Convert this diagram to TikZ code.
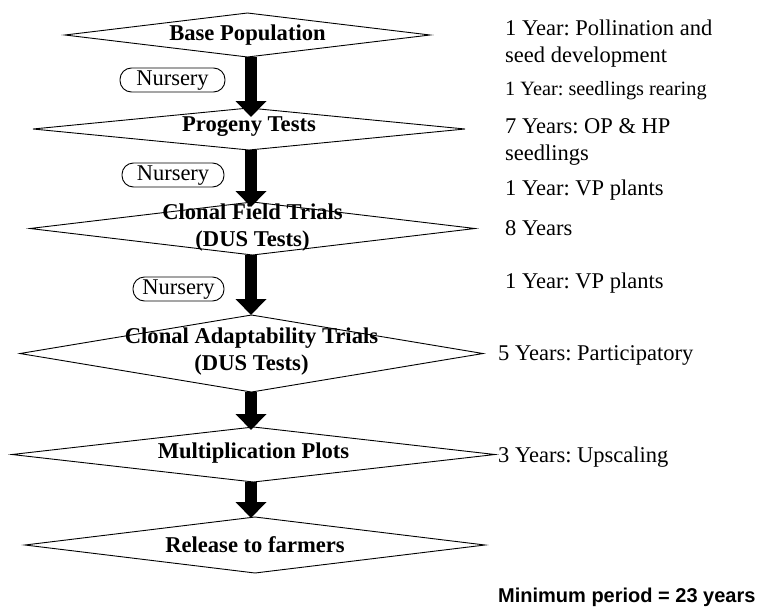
\documentclass[tikz,border=0pt]{standalone}
\usepackage{fontspec}
\setmainfont{Liberation Serif}
\newfontfamily\arialfont{Liberation Sans}
\usetikzlibrary{shapes.geometric,arrows.meta,calc}
\frenchspacing
\begin{document}
\begin{tikzpicture}[x=1pt,y=-1pt,
  dia/.style={draw, line width=0.9pt, shape=diamond, inner sep=0pt, outer sep=0pt},
  dlabel/.style={font=\fontsize{22.6}{27}\selectfont\bfseries, align=center, inner sep=0pt},
  pill/.style={draw, line width=0.9pt, rounded corners=11.5pt, minimum height=24pt, inner sep=0pt,
    font=\fontsize{22.5}{27}\selectfont, text height=15pt, text depth=4pt},
  note/.style={anchor=west, inner sep=0pt, align=left, font=\fontsize{22.5}{27}\selectfont},
  blockarrow/.style={line width=12pt, -{Triangle[width=30pt,length=16pt]}}
]
\useasboundingbox (0,0) rectangle (762,613);
\fill[white] (0,0) rectangle (762,613);

% diamonds
\node[dia, minimum width=365pt, minimum height=44pt] (d1) at (247.5,35) {};
\node[dia, minimum width=432pt, minimum height=42pt] (d2) at (249,129) {};
\node[dia, minimum width=445pt, minimum height=53pt] (d3) at (252.5,228.5) {};
\node[dia, minimum width=463pt, minimum height=77pt] (d4) at (251.5,353.5) {};
\node[dia, minimum width=483pt, minimum height=55pt] (d5) at (253.5,454.5) {};
\node[dia, minimum width=460pt, minimum height=56pt] (d6) at (255,545) {};

\coordinate (ax) at (251,0);

% arrows
\draw[blockarrow, shorten >=-9pt] (d1.south -| ax) -- (d2.north -| ax);
\draw[blockarrow, shorten >=-5pt] (d2.south -| ax) -- (d3.north -| ax);
\draw[blockarrow] (d3.south -| ax) -- (d4.north -| ax);
\draw[blockarrow, shorten >=-3pt] (d4.south -| ax) -- (d5.north -| ax);
\draw[blockarrow, shorten >=-1pt] (d5.south -| ax) -- (d6.north -| ax);

% diamond labels
\node[dlabel] (l1) at (d1) {Base Population};
\node[dlabel] (l2) at ([yshift=2pt]d2.center) {Progeny Tests};
\node[dlabel] (l3) at ([yshift=1pt]d3.center) {Clonal Field Trials\\(DUS Tests)};
\node[dlabel] (l4) at ([yshift=2pt]d4.center) {Clonal Adaptability Trials\\(DUS Tests)};
\node[dlabel] (l5) at ([yshift=1pt]d5.center) {Multiplication Plots};
\node[dlabel] (l6) at (d6) {Release to farmers};

% nursery pills
\node[pill, minimum width=105pt] (n1) at (172.5,80) {Nursery};
\node[pill, minimum width=102pt] (n2) at (173,175) {Nursery};
\node[pill, minimum width=91pt] (n3) at (178.5,289) {Nursery};

% notes
\node[note] (t1) at (505,43.5) {1 Year: Pollination and\\seed development};
\node[note, font=\fontsize{20.3}{24}\selectfont] (t2) at (505,91) {1 Year: seedlings rearing};
\node[note] (t3) at (505,141.5) {7 Years: OP \& HP\\seedlings};
\node[note] (t4) at (505,190) {1 Year: VP plants};
\node[note] (t5) at (505,228) {8 Years};
\node[note] (t6) at (505,283) {1 Year: VP plants};
\node[note] (t7) at (498,355) {5 Years: Participatory};
\node[note] (t8) at (498,457) {3 Years: Upscaling};
\node[note, font=\arialfont\bfseries\fontsize{20}{24}\selectfont] (t9) at (498,597) {Minimum period = 23 years};
\end{tikzpicture}
\end{document}
